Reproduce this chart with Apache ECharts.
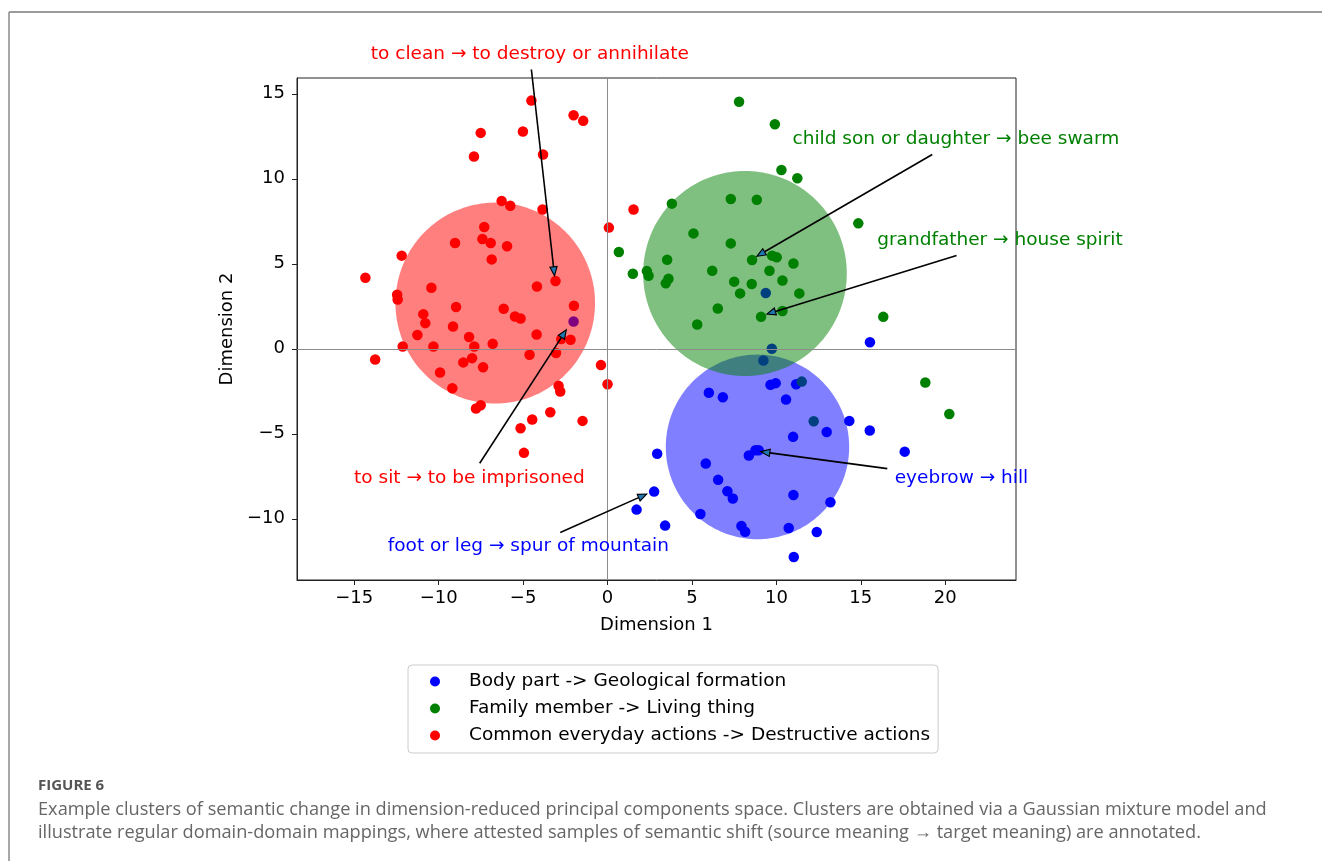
<!DOCTYPE html>
<html>
<head>
<meta charset="utf-8">
<script src="https://cdn.jsdelivr.net/npm/echarts@6/dist/echarts.min.js"></script>
<style>
  html, body { margin: 0; padding: 0; background: #fff; }
  #chart { width: 1322px; height: 861px; }
</style>
</head>
<body>
<div id="chart"></div>
<script>
// Cluster names (legend order)
const clusterNames = [
  'Body part -> Geological formation',
  'Family member -> Living thing',
  'Common everyday actions -> Destructive actions'
];
const clusterColors = ['#0000ff', '#008000', '#ff0000'];

// Samples in the reduced 2-D space: [dimension 1, dimension 2]
const bodyPartPoints = [
  [15.54, 0.39], [9.73, 0.00], [9.23, -0.69], [9.65, -2.12], [9.96, -2.02], [11.17, -2.08],
  [6.00, -2.59], [6.83, -2.85], [10.57, -2.98], [14.32, -4.24], [12.98, -4.89], [15.53, -4.81],
  [10.99, -5.18], [17.60, -6.05], [2.94, -6.17], [8.76, -5.97], [8.95, -5.97], [8.37, -6.28],
  [5.82, -6.75], [6.55, -7.71], [7.10, -8.38], [7.42, -8.81], [2.76, -8.40], [11.01, -8.60],
  [13.20, -9.03], [1.72, -9.46], [5.50, -9.72], [3.41, -10.40], [7.93, -10.42], [8.15, -10.76],
  [10.73, -10.54], [12.39, -10.78], [11.03, -12.25], [-2.01, 1.61], [9.37, 3.28]
];
const familyPoints = [
  [7.79, 14.53], [9.91, 13.21], [10.30, 10.52], [11.24, 10.03], [3.81, 8.54], [7.30, 8.81],
  [8.84, 8.77], [14.85, 7.38], [0.67, 5.69], [5.09, 6.79], [7.30, 6.20], [3.53, 5.24],
  [8.56, 5.22], [9.75, 5.48], [10.02, 5.38], [11.01, 5.02], [9.59, 4.59], [6.20, 4.59],
  [1.50, 4.42], [2.33, 4.57], [2.43, 4.30], [3.61, 4.12], [3.45, 3.85], [7.50, 3.95],
  [8.54, 3.81], [10.36, 4.02], [7.85, 3.26], [11.36, 3.26], [6.53, 2.37], [10.36, 2.22],
  [9.09, 1.88], [16.33, 1.88], [5.31, 1.43], [18.82, -1.98], [20.24, -3.83], [12.21, -4.26],
  [11.50, -1.93]
];
const actionPoints = [
  [-4.51, 14.60], [-2.01, 13.74], [-1.44, 13.41], [-7.51, 12.70], [-5.01, 12.78], [-7.91, 11.31],
  [-3.82, 11.43], [-6.27, 8.70], [-5.76, 8.42], [-3.85, 8.19], [0.08, 7.13], [1.54, 8.19],
  [-7.30, 7.17], [-9.03, 6.22], [-7.41, 6.46], [-6.92, 6.22], [-5.95, 6.03], [-12.19, 5.48],
  [-6.86, 5.26], [-14.34, 4.18], [-3.08, 3.99], [-4.18, 3.67], [-10.43, 3.59], [-12.46, 3.18],
  [-12.43, 2.90], [-8.97, 2.46], [-6.15, 2.36], [-1.99, 2.53], [-10.91, 2.04], [-5.48, 1.90],
  [-5.15, 1.78], [-10.79, 1.51], [-9.15, 1.31], [-11.26, 0.81], [-8.20, 0.69], [-4.20, 0.84],
  [-2.74, 0.57], [-2.19, 0.53], [-12.13, 0.14], [-10.31, 0.14], [-7.89, 0.14], [-6.80, 0.29],
  [-13.76, -0.63], [-4.62, -0.35], [-3.05, -0.25], [-8.02, -0.55], [-8.54, -0.80], [-7.37, -1.08],
  [-9.92, -1.39], [-0.39, -0.96], [0.00, -2.08], [-9.19, -2.32], [-2.90, -2.18], [-2.80, -2.51],
  [-7.51, -3.32], [-7.79, -3.51], [-3.39, -3.73], [-4.46, -4.16], [-1.48, -4.24], [-5.15, -4.67],
  [-4.95, -6.12]
];

// Gaussian mixture components drawn as circles: [centre x, centre y, radius]
const clusterCircles = [
  [8.88, -5.77, 5.43],
  [8.14, 4.43, 6.03],
  [-6.65, 2.69, 5.91]
];

// Annotated semantic shifts
const annoTexts = [
  'to clean \u2192 to destroy or annihilate',
  'child son or daughter \u2192 bee swarm',
  'grandfather \u2192 house spirit',
  'to sit \u2192 to be imprisoned',
  'foot or leg \u2192 spur of mountain',
  'eyebrow \u2192 hill'
];
const annoColors = ['#ff0000', '#008000', '#008000', '#ff0000', '#0000ff', '#0000ff'];
const annoTextAt = [[-4.60, 17.31], [20.63, 12.31], [23.24, 6.36], [-8.18, -7.60], [-4.69, -11.60], [20.96, -7.60]];
const annoArrowFrom = [[-4.51, 16.43], [19.23, 11.43], [20.67, 5.49], [-7.57, -6.73], [-2.80, -10.80], [16.57, -7.05]];
const annoArrowTo = [[-3.14, 4.30], [8.84, 5.44], [9.43, 2.04], [-2.44, 1.12], [2.33, -8.54], [9.08, -6.05]];

// Axes
const xTicks = [-15, -10, -5, 0, 5, 10, 15, 20];
const yTicks = [-10, -5, 0, 5, 10, 15];
const xRange = [-18.39, 24.19];
const yRange = [-13.60, 15.93];

const FONT = 'DejaVu Sans';
const FS = 18.5;
const fmtMinus = v => (v < 0 ? '\u2212' + Math.abs(v) : String(v));

const chart = echarts.init(document.getElementById('chart'), null, { renderer: 'canvas' });

function circleItem(params, api) {
  const cx = api.value(0), cy = api.value(1), r = api.value(2);
  const pts = [];
  for (let i = 0; i < 180; i++) {
    const t = (i / 180) * Math.PI * 2;
    pts.push(api.coord([cx + r * Math.cos(t), cy + r * Math.sin(t)]));
  }
  const col = echarts.color.modifyAlpha(clusterColors[params.dataIndex], 0.5);
  return { type: 'polygon', shape: { points: pts }, style: { fill: col } };
}

function arrowItem(params, api) {
  const p0 = api.coord([api.value(0), api.value(1)]);
  const p1 = api.coord([api.value(2), api.value(3)]);
  const dx = p1[0] - p0[0], dy = p1[1] - p0[1];
  const len = Math.sqrt(dx * dx + dy * dy);
  const ux = dx / len, uy = dy / len;
  const hl = 9, hw = 3.6;
  const base = [p1[0] - ux * hl, p1[1] - uy * hl];
  return {
    type: 'group',
    children: [
      { type: 'line', shape: { x1: p0[0], y1: p0[1], x2: base[0], y2: base[1] },
        style: { stroke: '#000', lineWidth: 1.6 } },
      { type: 'polygon',
        shape: { points: [p1, [base[0] - uy * hw, base[1] + ux * hw], [base[0] + uy * hw, base[1] - ux * hw]] },
        style: { fill: '#1f77b4', stroke: '#000', lineWidth: 1.1 } }
    ]
  };
}

function textItem(params, api) {
  const p = api.coord([api.value(0), api.value(1)]);
  return {
    type: 'text', x: p[0], y: p[1],
    style: {
      text: annoTexts[params.dataIndex], fill: annoColors[params.dataIndex],
      font: FS + 'px "' + FONT + '"', align: 'center', verticalAlign: 'middle'
    }
  };
}

const pointSeries = [bodyPartPoints, familyPoints, actionPoints].map((pts, i) => ({
  name: clusterNames[i],
  type: 'scatter',
  data: pts,
  symbol: 'circle',
  symbolSize: 10.5,
  itemStyle: { color: clusterColors[i], opacity: 1 },
  z: 2,
  animation: false
}));

const option = {
  animation: false,
  backgroundColor: '#ffffff',
  grid: { left: 297, right: 306, top: 78, bottom: 281, show: true, borderColor: '#222', borderWidth: 1, backgroundColor: 'transparent' },
  xAxis: {
    type: 'value', min: xRange[0], max: xRange[1],
    name: 'Dimension 1', nameLocation: 'middle', nameGap: 36,
    nameTextStyle: { fontFamily: FONT, fontSize: 18, color: '#000' },
    axisLine: { show: true, onZero: false, lineStyle: { color: '#222', width: 1 } },
    axisTick: { show: true, length: 5, lineStyle: { color: '#222' }, customValues: xTicks },
    axisLabel: { customValues: xTicks, formatter: fmtMinus, margin: 9, fontFamily: FONT, fontSize: 18, color: '#000' },
    splitLine: { show: false }
  },
  yAxis: {
    type: 'value', min: yRange[0], max: yRange[1],
    name: 'Dimension 2', nameLocation: 'middle', nameGap: 58,
    nameTextStyle: { fontFamily: FONT, fontSize: 18, color: '#000' },
    axisLine: { show: true, onZero: false, lineStyle: { color: '#222', width: 1 } },
    axisTick: { show: true, length: 5, lineStyle: { color: '#222' }, customValues: yTicks },
    axisLabel: { customValues: yTicks, formatter: fmtMinus, margin: 12, fontFamily: FONT, fontSize: 18, color: '#000' },
    splitLine: { show: false }
  },
  legend: {
    orient: 'vertical', left: 408, top: 665,
    data: clusterNames.map(n => ({ name: n, icon: 'circle' })),
    itemWidth: 10, itemHeight: 10, itemGap: 8,
    padding: [7, 8, 8, 22],
    borderColor: '#cccccc', borderWidth: 1, borderRadius: 4,
    textStyle: { fontFamily: FONT, fontSize: FS, color: '#000', lineHeight: 18, padding: [0, 0, 0, 24] },
    selectedMode: false
  },
  series: [
    ...pointSeries,
    {
      type: 'custom', name: 'clusters', data: clusterCircles, renderItem: circleItem,
      z: 3, silent: true, clip: false, animation: false
    },
    {
      type: 'scatter', name: 'zero', data: [], z: 4, silent: true,
      markLine: {
        silent: true, symbol: 'none', animation: false,
        label: { show: false },
        lineStyle: { color: '#8c8c8c', width: 1, type: 'solid' },
        data: [{ xAxis: 0 }, { yAxis: 0 }]
      }
    },
    {
      type: 'custom', name: 'arrows',
      data: annoArrowFrom.map((f, i) => [f[0], f[1], annoArrowTo[i][0], annoArrowTo[i][1]]),
      renderItem: arrowItem, z: 5, silent: true, clip: false, animation: false
    },
    {
      type: 'custom', name: 'labels', data: annoTextAt, renderItem: textItem,
      z: 6, silent: true, clip: false, animation: false
    }
  ],
  graphic: [
    { type: 'line', shape: { x1: 9, y1: 12, x2: 1322, y2: 12 }, style: { stroke: '#7a7a7a', lineWidth: 1.5 } },
    { type: 'line', shape: { x1: 9, y1: 12, x2: 9, y2: 861 }, style: { stroke: '#8a8a8a', lineWidth: 1.5 } },
    { type: 'text', x: 38, y: 786,
      style: { text: 'FIGURE 6', font: 'bold 15px "Open Sans"', fill: '#555', verticalAlign: 'middle' } },
    { type: 'text', x: 38, y: 810,
      style: { text: 'Example clusters of semantic change in dimension-reduced principal components space. Clusters are obtained via a Gaussian mixture model and',
        font: '18.2px "Open Sans"', fill: '#666', verticalAlign: 'middle' } },
    { type: 'text', x: 38, y: 833,
      style: { text: 'illustrate regular domain-domain mappings, where attested samples of semantic shift (source meaning \u2192 target meaning) are annotated.',
        font: '18.2px "Open Sans"', fill: '#666', verticalAlign: 'middle' } }
  ]
};

chart.setOption(option);
</script>
</body>
</html>
